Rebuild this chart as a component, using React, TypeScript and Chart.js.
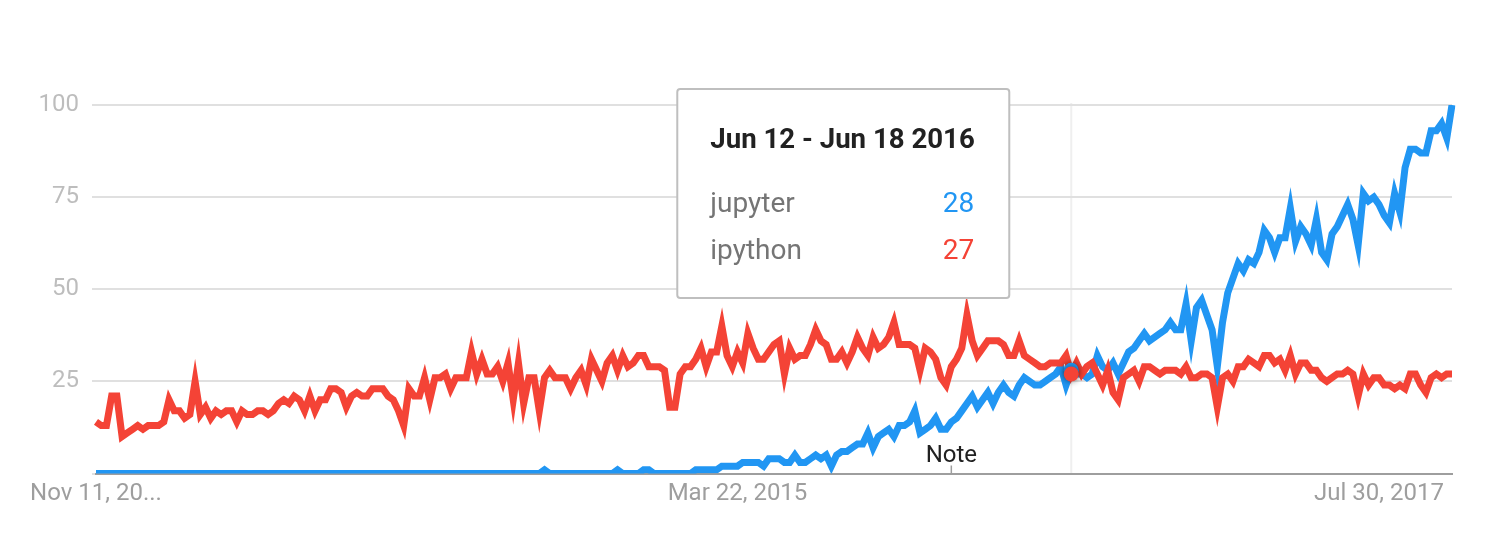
import React, { useEffect, useRef } from "react";
import { Chart, registerables } from "chart.js";

Chart.register(...registerables);

// ---- data ----
const startDate = { year: 2012, month: 10, day: 11 }; // Nov 11, 2012 (week start)
const monthNames = ["Jan", "Feb", "Mar", "Apr", "May", "Jun", "Jul", "Aug", "Sep", "Oct", "Nov", "Dec"];
const seriesNames = ["jupyter", "ipython"];
const seriesColors = ["#2196f3", "#f44336"];

const jupyter = [
  0, 0, 0, 0, 0, 0, 0, 0, 0, 0, 0, 0, 0, 0, 0, 0, 0, 0, 0, 0,
  0, 0, 0, 0, 0, 0, 0, 0, 0, 0, 0, 0, 0, 0, 0, 0, 0, 0, 0, 0,
  0, 0, 0, 0, 0, 0, 0, 0, 0, 0, 0, 0, 0, 0, 0, 0, 0, 0, 0, 0,
  0, 0, 0, 0, 0, 0, 0, 0, 0, 0, 0, 0, 0, 0, 0, 0, 0, 0, 0, 0,
  0, 0, 0, 0, 0, 0, 1, 0, 0, 0, 0, 0, 0, 0, 0, 0, 0, 0, 0, 0,
  1, 0, 0, 0, 0, 1, 1, 0, 0, 0, 0, 0, 0, 0, 0, 1, 1, 1, 1, 1,
  2, 2, 2, 2, 3, 3, 3, 3, 2,
  4, 4, 4, 3, 3, 5, 3, 3, 4, 5, 4, 5, 2, 5, 6, 6, 7, 8, 8, 11,
  7, 10, 11, 12, 10, 13, 13, 14, 17, 11, 12, 13, 15, 12, 12, 14, 15, 17, 19, 21,
  18, 20, 22, 19, 22, 24, 22,
  21, 24, 26, 25, 24, 24, 25, 26, 27, 29, 24, 28, 27, 27, 26, 27, 32, 29, 28, 30,
  27, 30, 33, 34, 36, 38, 36, 37, 38, 39, 41, 39, 39, 46, 36, 45, 47, 43, 39, 29,
  41, 49, 53, 57, 55, 58, 57, 60, 66, 64, 60, 64, 64, 72, 63, 67, 65, 62, 69, 60,
  58, 65, 67, 70, 73, 69, 62, 76, 74, 75, 73, 70, 68, 76, 71, 83, 88, 88, 87, 87,
  93, 93, 95, 91, 100,
];

const ipython = [
  14, 13, 13, 21, 21, 10, 11, 12, 13, 12, 13, 13, 13, 14, 20, 17, 17, 15, 16, 25,
  16, 18, 15, 17, 16, 17, 17, 14, 17, 16, 16, 17, 17, 16, 17, 19, 20, 19, 21, 20,
  17, 21, 17, 20,
  20, 23, 23, 22, 18, 21, 22, 21, 21, 23, 23, 23, 21, 20, 17, 13, 23, 21, 21, 26,
  20, 26, 26, 27, 23, 26, 26, 26, 33, 27, 31, 27, 27, 29, 25, 30, 20, 30, 19, 26,
  26, 17, 26, 28,
  26, 26, 26, 23, 26, 28, 24, 31, 28, 25, 30, 32, 28, 32, 29, 30, 32, 32, 29, 29,
  29, 28, 18, 18, 27, 29, 29, 31, 34, 29, 33, 33, 40, 32, 29, 33, 30, 38, 34, 31,
  31,
  33, 35, 36, 27, 34, 31, 32, 32, 35, 39, 36, 35, 31, 31, 33, 30, 33, 37, 34, 32,
  37, 34, 35, 37, 41, 35, 35, 35, 34, 28, 34, 33, 31, 26, 24, 29, 31, 34, 43, 36,
  32, 34, 36, 36, 36, 35, 32,
  32, 36, 32, 31, 30, 29, 29, 30, 30, 30, 32, 27, 30, 27, 29, 30, 27, 24, 28, 22,
  20, 26, 27, 28, 25, 29, 29, 28, 27, 28, 28, 28, 27, 29, 26, 26, 27, 27, 26, 18,
  26, 27, 25, 29, 29, 31, 30, 29, 32, 32, 30, 31, 28, 32, 27, 30, 30, 28, 28, 26,
  25, 26, 27, 27, 28, 27, 21, 27, 24, 26, 26, 24, 24, 23, 24, 23, 27, 27, 24, 22,
  26, 27, 26, 27, 27,
];

const tickIndices = [0, 123, 246];
const tickLabels = ["Nov 11, 20...", "Mar 22, 2015", "Jul 30, 2017"];
const yTickValues = [25, 50, 75, 100];
const hoverIndex = 187;
const noteIndex = 164;
const noteLabel = "Note";

function weekDates(): Date[] {
  const out: Date[] = [];
  for (let i = 0; i < jupyter.length; i++) {
    out.push(new Date(startDate.year, startDate.month, startDate.day + 7 * i));
  }
  return out;
}

function fmtLabel(d: Date) {
  return `${monthNames[d.getMonth()]} ${d.getDate()}, ${d.getFullYear()}`;
}

function fmtRange(d: Date) {
  const e = new Date(d.getFullYear(), d.getMonth(), d.getDate() + 6);
  return `${monthNames[d.getMonth()]} ${d.getDate()} - ${monthNames[e.getMonth()]} ${e.getDate()} ${e.getFullYear()}`;
}

const FONT = "Roboto, 'Noto Sans', sans-serif";

export default function App() {
  const ref = useRef<HTMLCanvasElement>(null);

  useEffect(() => {
    const canvas = ref.current;
    if (!canvas) return;
    const dates = weekDates();
    const labels = dates.map(fmtLabel);

    const overlay = {
      id: "overlay",
      beforeDraw(chart: any) {
        const { ctx, chartArea } = chart;
        const x = chart.scales.x.getPixelForValue(hoverIndex);
        ctx.save();
        ctx.strokeStyle = "#efefef";
        ctx.lineWidth = 2;
        ctx.beginPath();
        ctx.moveTo(x, chartArea.top - 2);
        ctx.lineTo(x, chartArea.bottom);
        ctx.stroke();
        ctx.restore();
      },
      afterDatasetsDraw(chart: any) {
        const { ctx } = chart;
        ctx.save();
        [0, 1].forEach((di) => {
          const p = chart.getDatasetMeta(di).data[hoverIndex];
          ctx.shadowColor = "rgba(0,0,0,0.45)";
          ctx.shadowBlur = 6;
          ctx.fillStyle = seriesColors[di];
          ctx.beginPath();
          ctx.arc(p.x, p.y, 7.5, 0, Math.PI * 2);
          ctx.fill();
        });
        ctx.restore();
      },
      afterDraw(chart: any) {
        const { ctx, chartArea } = chart;
        const xs = chart.scales.x;
        // Note annotation
        const nx = xs.getPixelForValue(noteIndex);
        ctx.save();
        ctx.strokeStyle = "#9e9e9e";
        ctx.lineWidth = 1.5;
        ctx.beginPath();
        ctx.moveTo(nx, chartArea.bottom - 8);
        ctx.lineTo(nx, chartArea.bottom);
        ctx.stroke();
        ctx.fillStyle = "#212121";
        ctx.font = `24px ${FONT}`;
        ctx.textAlign = "center";
        ctx.textBaseline = "alphabetic";
        ctx.fillText(noteLabel, nx, chartArea.bottom - 11.5);
        ctx.restore();

        // Tooltip box
        const px = xs.getPixelForValue(hoverIndex);
        const L = px - 394;
        const T = chartArea.top - 16;
        const W = 332;
        const H = 209;
        ctx.save();
        ctx.fillStyle = "#ffffff";
        ctx.strokeStyle = "#bfbfbf";
        ctx.lineWidth = 2;
        ctx.beginPath();
        ctx.roundRect(L, T, W, H, 3);
        ctx.fill();
        ctx.stroke();
        ctx.textBaseline = "alphabetic";
        ctx.textAlign = "left";
        ctx.fillStyle = "#212121";
        ctx.font = `bold 27.6px ${FONT}`;
        ctx.fillText(fmtRange(dates[hoverIndex]), L + 33, T + 59);
        const vals = [jupyter[hoverIndex], ipython[hoverIndex]];
        ctx.font = `28px ${FONT}`;
        [0, 1].forEach((i) => {
          const y = T + 123 + i * 47;
          ctx.textAlign = "left";
          ctx.fillStyle = "#757575";
          ctx.fillText(seriesNames[i], L + 33, y);
          ctx.textAlign = "right";
          ctx.fillStyle = seriesColors[i];
          ctx.fillText(String(vals[i]), L + 297, y);
        });
        ctx.restore();
      },
    };

    const chart = new Chart(canvas, {
      type: "line",
      data: {
        labels,
        datasets: [
          {
            label: seriesNames[0],
            data: jupyter,
            borderColor: seriesColors[0],
            backgroundColor: seriesColors[0],
            borderWidth: 7,
            pointRadius: 0,
            tension: 0,
            order: 1,
          },
          {
            label: seriesNames[1],
            data: ipython,
            borderColor: seriesColors[1],
            backgroundColor: seriesColors[1],
            borderWidth: 7,
            pointRadius: 0,
            tension: 0,
            order: 0,
          },
        ],
      },
      options: {
        animation: false,
        responsive: true,
        maintainAspectRatio: false,
        events: [],
        layout: { padding: { left: 0, right: 38, top: 97, bottom: 0 } },
        plugins: {
          legend: { display: false },
          tooltip: { enabled: false },
          title: { display: false },
        },
        scales: {
          x: {
            type: "category",
            offset: false,
            grid: { display: false, drawTicks: false },
            border: { display: true, color: "#9e9e9e", width: 2 },
            ticks: {
              autoSkip: false,
              maxRotation: 0,
              minRotation: 0,
              padding: 6,
              color: "#9e9e9e",
              font: { family: FONT, size: 24 },
              callback: (_v: any, index: number) => {
                const k = tickIndices.indexOf(index);
                return k >= 0 ? tickLabels[k] : "";
              },
            },
            afterFit: (s: any) => {
              s.height = 68.5;
            },
          },
          y: {
            min: 0,
            max: 100,
            afterBuildTicks: (s: any) => {
              s.ticks = [0, ...yTickValues].map((v) => ({ value: v }));
            },
            grid: { color: "#e0e0e0", lineWidth: 2, drawTicks: true, tickLength: 4 },
            border: { display: false },
            ticks: {
              padding: 13,
              color: "#bdbdbd",
              font: { family: FONT, size: 24 },
              callback: (v: any) => (v === 0 ? "" : String(v)),
            },
            afterFit: (s: any) => {
              s.width = 88;
            },
          },
        },
      },
      plugins: [overlay],
    });

    return () => chart.destroy();
  }, []);

  return (
    <div style={{ position: "relative", width: 1482, height: 534 }}>
      <canvas ref={ref} />
    </div>
  );
}
